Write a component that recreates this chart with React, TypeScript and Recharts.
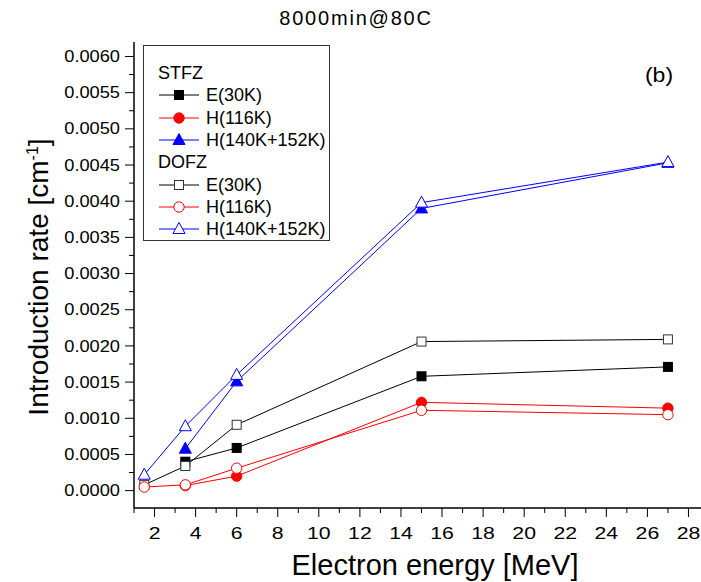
import React from "react";
import { LineChart, Line, XAxis, YAxis } from "recharts";

const energy = [1.5, 3.5, 6, 15, 27];
const stfzE = [null, 0.0004, 0.00059, 0.00158, 0.00171];
const stfzH116 = [null, 0.00007, 0.0002, 0.00122, 0.00114];
const stfzH140 = [null, 0.00058, 0.00151, 0.0039, 0.00453];
const dofzE = [0.00008, 0.00034, 0.00091, 0.00206, 0.00209];
const dofzH116 = [0.00005, 0.00008, 0.00031, 0.00111, 0.00105];
const dofzH140 = [0.00022, 0.00089, 0.0016, 0.00398, 0.00454];

const xMajorTicks = [2, 4, 6, 8, 10, 12, 14, 16, 18, 20, 22, 24, 26, 28];
const xMinorTicks = [1, 3, 5, 7, 9, 11, 13, 15, 17, 19, 21, 23, 25, 27, 29];
const yMajorTicks = [0, 0.0005, 0.001, 0.0015, 0.002, 0.0025, 0.003, 0.0035, 0.004, 0.0045, 0.005, 0.0055, 0.006];
const yMinorTicks = [0.00025, 0.00075, 0.00125, 0.00175, 0.00225, 0.00275, 0.00325, 0.00375, 0.00425, 0.00475, 0.00525, 0.00575];

const FONT = "Arial, 'Liberation Sans', sans-serif";

type Shape = "square" | "circle" | "triangle";
interface SeriesDef {
  key: string;
  name: string;
  values: (number | null)[];
  color: string;
  shape: Shape;
  filled: boolean;
}

const stfz: SeriesDef[] = [
  { key: "sE", name: "E(30K)", values: stfzE, color: "#000000", shape: "square", filled: true },
  { key: "sH1", name: "H(116K)", values: stfzH116, color: "#ff0000", shape: "circle", filled: true },
  { key: "sH2", name: "H(140K+152K)", values: stfzH140, color: "#0000ff", shape: "triangle", filled: true },
];
const dofz: SeriesDef[] = [
  { key: "dE", name: "E(30K)", values: dofzE, color: "#000000", shape: "square", filled: false },
  { key: "dH1", name: "H(116K)", values: dofzH116, color: "#ff0000", shape: "circle", filled: false },
  { key: "dH2", name: "H(140K+152K)", values: dofzH140, color: "#0000ff", shape: "triangle", filled: false },
];
const allSeries = [...stfz, ...dofz];

const data = energy.map((x, i) => {
  const row: Record<string, number | null> = { x };
  allSeries.forEach((s) => (row[s.key] = s.values[i]));
  return row;
});

function Marker({ shape, filled, color, cx, cy }: { shape: Shape; filled: boolean; color: string; cx: number; cy: number }) {
  const fill = filled ? color : "#ffffff";
  if (shape === "square")
    return <rect x={cx - 4.5} y={cy - 4.5} width={9} height={9} fill={fill} stroke={filled ? color : "#333"} strokeWidth={1} />;
  if (shape === "circle") return <circle cx={cx} cy={cy} r={5.2} fill={fill} stroke={color} strokeWidth={1} />;
  return (
    <polygon
      points={`${cx},${cy - 6.5} ${cx - 6},${cy + 4.5} ${cx + 6},${cy + 4.5}`}
      fill={fill}
      stroke={color}
      strokeWidth={1}
    />
  );
}

const near = (arr: number[], v: number) => arr.some((a) => Math.abs(a - v) < 1e-9);

function XTick(props: any) {
  const { x, y, payload } = props;
  const major = near(xMajorTicks, payload.value);
  return (
    <g>
      <line x1={x} x2={x} y1={y} y2={y + (major ? 9 : 5)} stroke="#000" strokeWidth={1} />
      {major && (
        <text
          transform={`translate(${x},${y + 19}) scale(1.25,1)`}
          dy="0.71em"
          textAnchor="middle"
          fontSize={17}
          fill="#000"
          fontFamily={FONT}
        >
          {payload.value}
        </text>
      )}
    </g>
  );
}

function YTick(props: any) {
  const { x, y, payload } = props;
  const major = near(yMajorTicks, payload.value);
  return (
    <g>
      <line x1={x - (major ? 9 : 5)} x2={x} y1={y} y2={y} stroke="#000" strokeWidth={1} />
      {major && (
        <text
          transform={`translate(${x - 14},${y}) scale(1.14,1)`}
          dy="0.35em"
          textAnchor="end"
          fontSize={16}
          fill="#000"
          fontFamily={FONT}
        >
          {payload.value.toFixed(4)}
        </text>
      )}
    </g>
  );
}

function LegendRow({ s }: { s: SeriesDef }) {
  return (
    <div style={{ display: "flex", alignItems: "center", height: 22.3 }}>
      <svg width={44} height={22} style={{ marginRight: 4 }}>
        <line x1={1} x2={41} y1={11} y2={11} stroke={s.color} strokeWidth={1} />
        <Marker shape={s.shape} filled={s.filled} color={s.color} cx={21} cy={11} />
      </svg>
      <span>{s.name}</span>
    </div>
  );
}

export default function App() {
  return (
    <div
      style={{
        position: "absolute",
        left: 0,
        top: 0,
        width: 701,
        height: 582,
        overflow: "hidden",
        background: "#fff",
        fontFamily: FONT,
        color: "#000",
      }}
    >
      <LineChart width={709} height={582} data={data} margin={{ top: 42, right: 0, bottom: 0, left: 54 }}>
        <XAxis
          dataKey="x"
          type="number"
          domain={[1, 29]}
          ticks={[...xMinorTicks, ...xMajorTicks]}
          interval={0}
          tickSize={0}
          tickMargin={0}
          tick={<XTick />}
          axisLine={{ stroke: "#000", strokeWidth: 1.5 }}
          height={74}
          allowDataOverflow
        />
        <XAxis
          xAxisId="top"
          orientation="top"
          dataKey="x"
          type="number"
          domain={[1, 29]}
          tick={false}
          tickLine={false}
          height={0}
          axisLine={{ stroke: "#000", strokeWidth: 1.5 }}
          allowDataOverflow
        />
        <YAxis
          type="number"
          domain={[-0.00024, 0.0062]}
          ticks={[...yMinorTicks, ...yMajorTicks]}
          interval={0}
          width={80}
          tickSize={0}
          tickMargin={0}
          tick={<YTick />}
          axisLine={{ stroke: "#000", strokeWidth: 1.5 }}
          allowDataOverflow
        />
        {allSeries.map((s) => (
          <Line
            key={s.key}
            dataKey={s.key}
            stroke={s.color}
            strokeWidth={1}
            isAnimationActive={false}
            activeDot={false}
            dot={(p: any) =>
              p.cx == null || p.cy == null || p.value == null ? (
                <g key={`${s.key}-${p.index}`} />
              ) : (
                <Marker key={`${s.key}-${p.index}`} shape={s.shape} filled={s.filled} color={s.color} cx={p.cx} cy={p.cy} />
              )
            }
          />
        ))}
      </LineChart>

      <div
        style={{
          position: "absolute",
          left: 206,
          top: 7,
          width: 300,
          textAlign: "center",
          fontSize: 20,
          letterSpacing: 1.8,
        }}
      >
        8000min@80C
      </div>
      <div
        style={{
          position: "absolute",
          left: 629,
          top: 64,
          width: 60,
          textAlign: "center",
          fontSize: 20,
          transform: "scaleX(1.15)",
        }}
      >
        (b)
      </div>

      <div
        style={{
          position: "absolute",
          left: 143,
          top: 45,
          width: 187,
          height: 196,
          border: "1px solid #333",
          boxSizing: "border-box",
          padding: "16px 0 0 14px",
          fontSize: 18,
          lineHeight: "22px",
        }}
      >
        <div style={{ height: 22.3 }}>STFZ</div>
        {stfz.map((s) => (
          <LegendRow key={s.key} s={s} />
        ))}
        <div style={{ height: 22.3 }}>DOFZ</div>
        {dofz.map((s) => (
          <LegendRow key={s.key} s={s} />
        ))}
      </div>

      <div
        style={{
          position: "absolute",
          left: 33 - 170,
          top: 277 - 16,
          width: 340,
          height: 32,
          lineHeight: "32px",
          textAlign: "center",
          fontSize: 28,
          transform: "rotate(-90deg)",
          whiteSpace: "nowrap",
        }}
      >
        Introduction rate [cm<sup style={{ fontSize: 16 }}>-1</sup>]
      </div>
      <div
        style={{
          position: "absolute",
          left: 235,
          top: 549,
          width: 400,
          textAlign: "center",
          fontSize: 29,
          lineHeight: "32px",
        }}
      >
        Electron energy [MeV]
      </div>
    </div>
  );
}
